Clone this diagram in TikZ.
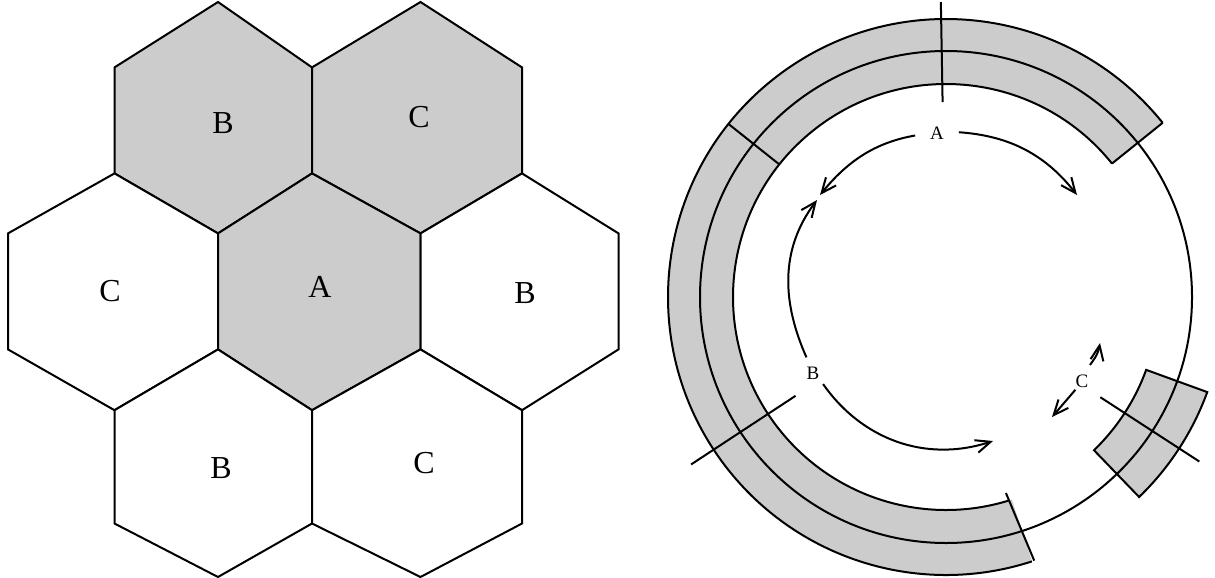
\documentclass[tikz,border=0pt]{standalone}
\usepackage{fontspec}
\setmainfont{Liberation Serif}
\usetikzlibrary{arrows.meta}
\definecolor{bandgray}{RGB}{204,204,204}
\begin{document}
\begin{tikzpicture}[x=0.5pt,y=-0.5pt,line width=1pt,line join=miter,
  cell/.style={draw=black,fill=white,line width=1pt},
  shadedcell/.style={draw=black,fill=bandgray,line width=1pt},
  hexlabel/.style={font=\fontsize{16}{18}\selectfont,inner sep=0pt},
  ringlabel/.style={circle,minimum size=10pt,inner sep=0pt,font=\fontsize{9.5}{11}\selectfont},
  flow/.style={line width=1pt,-{Straight Barb[length=7.5pt,width=6.5pt]}},
  band/.style={fill=bandgray,draw=none},
  ringline/.style={draw=black,line width=1pt}]
\useasboundingbox (0,0) rectangle (1215,578);

% ---------------- hexagonal cells ----------------
\path[shadedcell] (218,2) -- (312,67.4) -- (312,173.4) -- (218,233.4) -- (114.5,173.4) -- (114.5,67.4) -- cycle;
\path[shadedcell] (420.5,2) -- (522,67.4) -- (522,173.4) -- (420.5,233.4) -- (312,173.4) -- (312,67.4) -- cycle;
\path[cell] (114.5,173.4) -- (218,233.4) -- (218,349.4) -- (114.5,410.2) -- (8,349.4) -- (8,233.4) -- cycle;
\path[shadedcell] (312,173.4) -- (420.5,233.4) -- (420.5,349.4) -- (312,410.2) -- (218,349.4) -- (218,233.4) -- cycle;
\path[cell] (522,173.4) -- (618.5,233.4) -- (618.5,349.4) -- (522,410.2) -- (420.5,349.4) -- (420.5,233.4) -- cycle;
\path[cell] (218,349.4) -- (312,410.2) -- (312,523.5) -- (218,577) -- (114.5,523.5) -- (114.5,410.2) -- cycle;
\path[cell] (420.5,349.4) -- (522,410.2) -- (522,523.5) -- (420.5,577) -- (312,523.5) -- (312,410.2) -- cycle;

\node[hexlabel] (hB1) at (223,123) {B};
\node[hexlabel] (hC1) at (419,117) {C};
\node[hexlabel] (hC2) at (110,291) {C};
\node[hexlabel] (hA)  at (320,287) {A};
\node[hexlabel] (hB2) at (525,293) {B};
\node[hexlabel] (hB3) at (221,468) {B};
\node[hexlabel] (hC3) at (424,463) {C};

% ---------------- ring diagram ----------------
\begin{scope}[shift={(946,297)},x=0.5pt,y=0.5pt]
  % gray bands
  \fill[bandgray] (38.8:213) arc[start angle=38.8,end angle=288,radius=213]
     -- (288:278) arc[start angle=288,end angle=38.8,radius=278] -- cycle;
  \fill[bandgray] (-46:213) arc[start angle=-46,end angle=-20,radius=213]
     -- (-20:278) arc[start angle=-20,end angle=-46,radius=278] -- cycle;
  % circles and arcs
  \draw[ringline] (0,0) circle[radius=246];
  \draw[ringline] (38.8:278) arc[start angle=38.8,end angle=288,radius=278];
  \draw[ringline] (38.8:213) arc[start angle=38.8,end angle=287,radius=213];
  \draw[ringline] (38.8:213) -- (38.8:278);
  \draw[ringline] (287:205) -- (288.5:278);
  \draw[ringline] (-46:213) arc[start angle=-46,end angle=-20,radius=213]
     -- (-20:278) arc[start angle=-20,end angle=-46,radius=278] -- cycle;
  % cross ticks
  \draw[ringline] (91:195) -- (91:295);
  \draw[ringline] (141.5:213) -- (141.5:278);
  \draw[ringline] (213.3:180) -- (213.3:305);
  \draw[ringline] (-33:184) -- (-33:302);

  % labels
  \node[ringlabel] (lA) at (-9,164) {A};
  \node[ringlabel] (lB) at (-133,-76) {B};
  \node[ringlabel] (lC) at (136,-84) {C};
  \coordinate (tAR) at (131,102);
  \coordinate (tAL) at (-126,102);
  \coordinate (tBU) at (-129,97);
  \coordinate (tBD) at (47,-144);
  \coordinate (tCD) at (106,-120);
  \coordinate (tCU) at (154,-46);

  % arrows
  \draw[flow,shorten <=5.5pt] (lA.8) to[out=-4,in=128] (tAR);
  \draw[flow,shorten <=5.5pt] (lA.183) to[out=190,in=51] (tAL);
  \draw[flow,shorten <=3pt] (lB.112) to[out=114,in=233] (tBU);
  \draw[flow,shorten <=2pt] (lB.-45) to[out=-55,in=198] (tBD);
  \draw[flow] (lC.233) -- (tCD);
  \draw[flow,shorten <=3.5pt] (lC.69) to[out=55,in=260] (tCU);
\end{scope}
\end{tikzpicture}
\end{document}
